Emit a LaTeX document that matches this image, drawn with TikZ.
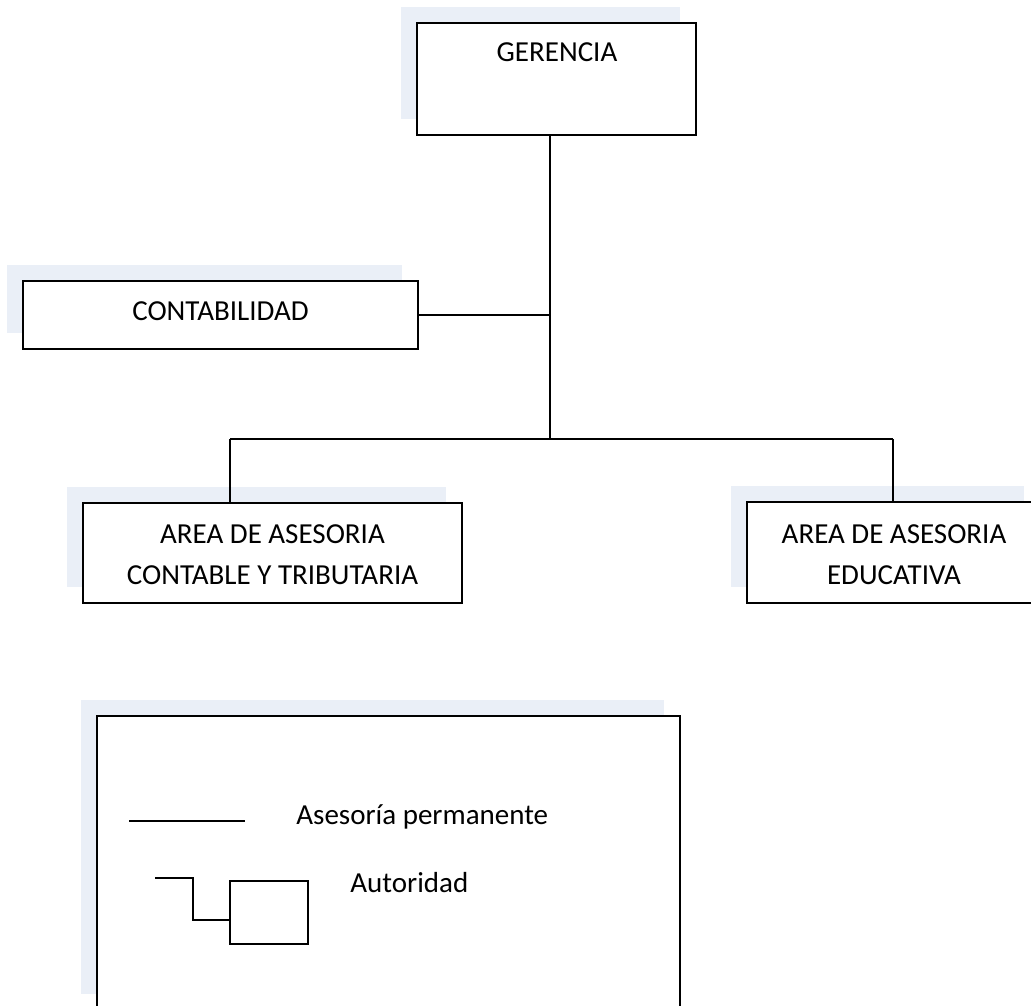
\documentclass[tikz,border=0pt]{standalone}
\usepackage{fontspec}
\setmainfont{Carlito}
\usetikzlibrary{shadows}
\definecolor{shadecol}{RGB}{234,239,247}
\begin{document}
\begin{tikzpicture}[x=0.5pt,y=-0.5pt,
  box/.style={draw=black, line width=1.25pt, fill=white, inner sep=0pt, outer sep=0pt,
    general shadow={shadow xshift=-8pt, shadow yshift=8pt, fill=shadecol, draw=none}},
  lbl/.style={inner sep=0pt, anchor=base, font=\fontsize{14.5}{20.5}\selectfont},
  conn/.style={draw=black, line width=1.2pt},
  legline/.style={draw=black, line width=1pt}]
\useasboundingbox (0,0) rectangle (1031,1005);
% boxes
\node[box, minimum width=139.5pt, minimum height=56pt] (ger) at (556.5,79) {};
\node[box, minimum width=197.5pt, minimum height=34pt] (con) at (220.5,315) {};
\node[box, minimum width=189.5pt, minimum height=50pt] (act) at (272.5,553) {};
\node[box, minimum width=146.5pt, minimum height=50.5pt] (aed) at (893.5,552.5) {};
\node[box, minimum width=291.5pt, minimum height=147pt] (leg) at (388.5,863) {};
% texts
\node[lbl] (tger) at (557,62) {GERENCIA};
\node[lbl] (tcon) at (220.5,320) {CONTABILIDAD};
\node[lbl] (tact1) at (272.5,543) {AREA DE ASESORIA};
\node[lbl] (tact2) at (272.5,584) {CONTABLE Y TRIBUTARIA};
\node[lbl] (taed1) at (894,543) {AREA DE ASESORIA};
\node[lbl] (taed2) at (894,584) {EDUCATIVA};
% connectors
\coordinate (trunk) at (550,439);
\coordinate (busL) at (230,439);
\coordinate (busR) at (893,439);
\draw[conn] (ger.south -| trunk) -- (trunk);
\draw[conn] (con.east) -- (con.east -| trunk);
\draw[conn] (busL) -- (busR);
\draw[conn] (busL) -- (busL |- act.north);
\draw[conn] (busR) -- (busR |- aed.north);
% legend
\coordinate (la) at (129,821);
\coordinate (lb) at (245,821);
\draw[legline] (la) -- (lb);
\node[lbl, anchor=base west] (tas) at (296,824) {Asesoría permanente};
\node[draw=black, line width=1pt, inner sep=0pt, outer sep=0pt, minimum width=39pt, minimum height=31.5pt] (sym) at (269,912.5) {};
\coordinate (p0) at (155,878);
\coordinate (p1) at (193,920);
\draw[legline] (p0) -| (p1) -- (p1 -| sym.west);
\node[lbl, anchor=base west] (tau) at (350,892) {Autoridad};
\end{tikzpicture}
\end{document}
